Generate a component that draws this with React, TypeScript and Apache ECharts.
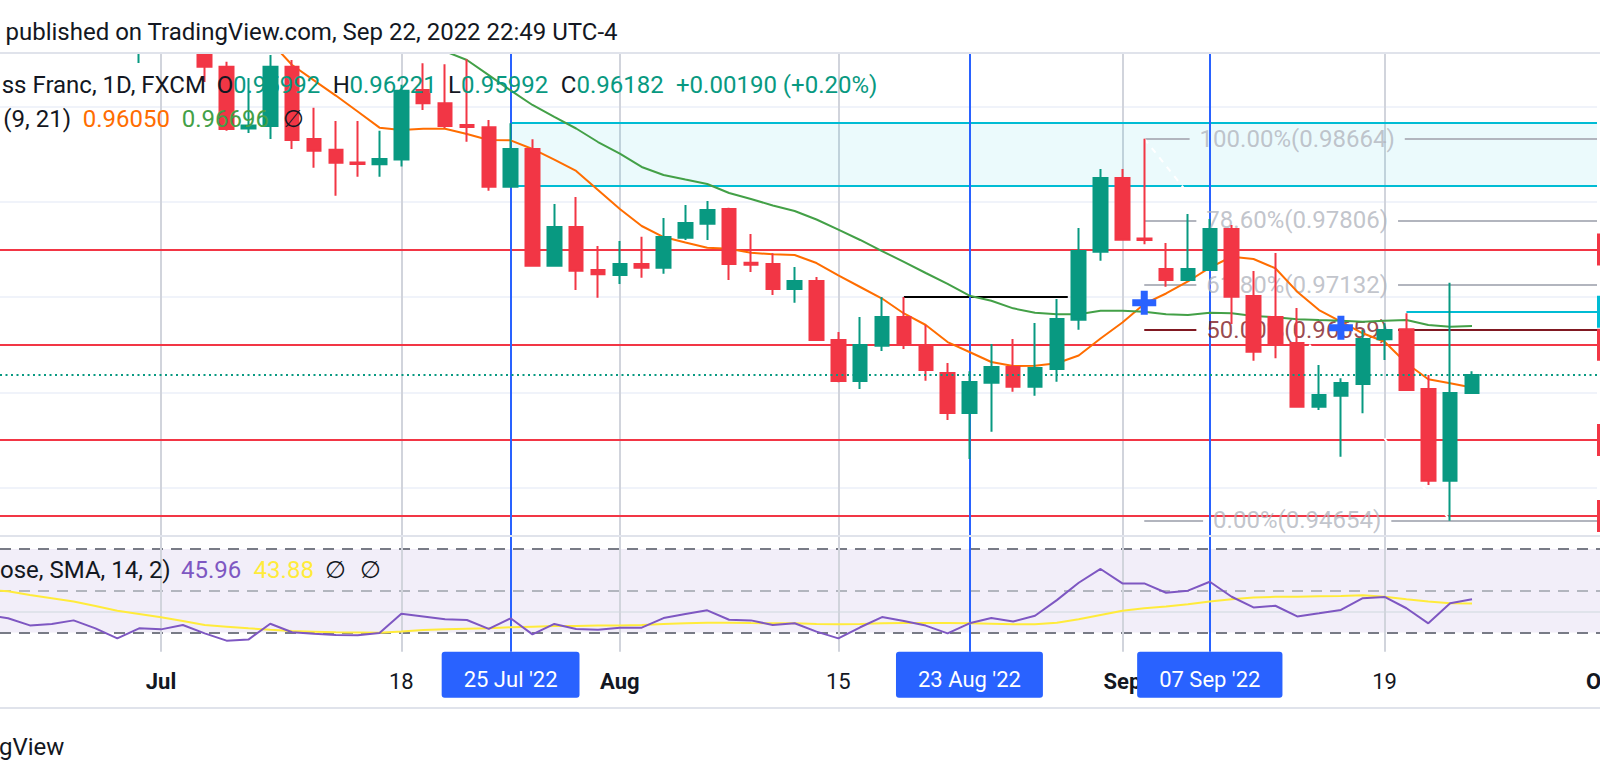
import React, { useEffect, useRef } from 'react';
import * as echarts from 'echarts';

// ---------- DATA ----------
const tradingDays = [
  'Jun 21', 'Jun 22', 'Jun 23', 'Jun 24', 'Jun 27', 'Jun 28', 'Jun 29', 'Jun 30',
  'Jul 1', 'Jul 4', 'Jul 5', 'Jul 6', 'Jul 7', 'Jul 8', 'Jul 11', 'Jul 12', 'Jul 13', 'Jul 14', 'Jul 15',
  'Jul 18', 'Jul 19', 'Jul 20', 'Jul 21', 'Jul 22', 'Jul 25', 'Jul 26', 'Jul 27', 'Jul 28', 'Jul 29',
  'Aug 1', 'Aug 2', 'Aug 3', 'Aug 4', 'Aug 5', 'Aug 8', 'Aug 9', 'Aug 10', 'Aug 11', 'Aug 12',
  'Aug 15', 'Aug 16', 'Aug 17', 'Aug 18', 'Aug 19', 'Aug 22', 'Aug 23', 'Aug 24', 'Aug 25', 'Aug 26',
  'Aug 29', 'Aug 30', 'Aug 31', 'Sep 1', 'Sep 2', 'Sep 5', 'Sep 6', 'Sep 7', 'Sep 8', 'Sep 9',
  'Sep 12', 'Sep 13', 'Sep 14', 'Sep 15', 'Sep 16', 'Sep 19', 'Sep 20', 'Sep 21', 'Sep 22', 'Sep 23',
];

const opens = [
  1.0160, 1.0180, 1.0150, 1.0170, 1.0135, 1.0120, 1.0075, 0.9992,
  1.0015, 0.9990, 1.0000, 0.99420, 0.98771, 0.98797, 0.99420, 0.98661, 0.98548, 0.98414, 0.98395,
  0.98445, 0.99175, 0.99036, 0.98808, 0.98784, 0.98160, 0.98556, 0.97330, 0.97736, 0.97285,
  0.97232, 0.97348, 0.97309, 0.97624, 0.97771, 0.97925, 0.97361, 0.97348, 0.97085, 0.97169,
  0.96549, 0.96119, 0.96489, 0.96791, 0.96497, 0.96203, 0.95783, 0.96101, 0.96266, 0.96059,
  0.96245, 0.96763, 0.97477, 0.98251, 0.97616, 0.97295, 0.97180, 0.97285, 0.97715, 0.97012,
  0.96791, 0.96518, 0.95849, 0.95964, 0.96087, 0.96557, 0.96662, 0.96035, 0.95071, 0.95992,
];
const closes = [
  1.0180, 1.0150, 1.0170, 1.0135, 1.0120, 1.0075, 0.9992, 1.0015,
  0.9990, 1.0000, 0.99420, 0.98766, 0.98803, 0.99420, 0.98650, 0.98538, 0.98412, 0.98398, 0.98451,
  0.99168, 0.99036, 0.98797, 0.98787, 0.98160, 0.98556, 0.97330, 0.97736, 0.97277, 0.97240,
  0.97348, 0.97309, 0.97631, 0.97778, 0.97915, 0.97348, 0.97340, 0.97085, 0.97169, 0.96549,
  0.96119, 0.96497, 0.96791, 0.96497, 0.96234, 0.95783, 0.96108, 0.96266, 0.96059, 0.96255,
  0.96770, 0.97484, 0.98251, 0.97603, 0.97600, 0.97180, 0.97295, 0.97715, 0.97004, 0.96426,
  0.96497, 0.95849, 0.95972, 0.96098, 0.96560, 0.96654, 0.96024, 0.95071, 0.95992, 0.96182,
];
const lows = [
  1.0140, 1.0120, 1.0130, 1.0115, 1.0095, 1.0060, 0.9980, 0.99459,
  0.9966, 0.9962, 0.99259, 0.98748, 0.98724, 0.98661, 0.98556, 0.98359, 0.98065, 0.98265, 0.98265,
  0.98372, 0.98965, 0.98773, 0.98632, 0.98118, 0.98151, 0.97327, 0.97319, 0.97075, 0.96994,
  0.97138, 0.97204, 0.97246, 0.97600, 0.97600, 0.97180, 0.97264, 0.97022, 0.96941, 0.96539,
  0.96105, 0.96035, 0.96434, 0.96455, 0.96122, 0.95709, 0.95300, 0.95586, 0.96006, 0.95964,
  0.96111, 0.96658, 0.97382, 0.97600, 0.97555, 0.97109, 0.97175, 0.97280, 0.96717, 0.96332,
  0.96357, 0.95846, 0.95814, 0.95324, 0.95779, 0.96339, 0.96014, 0.95026, 0.94651, 0.95992,
];
const highs = [
  1.0200, 1.0205, 1.0195, 1.0185, 1.0160, 1.0140, 1.0090, 1.0040,
  1.0045, 1.0025, 1.0012, 0.99473, 0.99301, 0.99543, 0.99491, 0.98989, 0.98850, 0.98850, 0.98748,
  0.99230, 0.99456, 0.99445, 0.99498, 0.98860, 0.98826, 0.98658, 0.97978, 0.98051, 0.97537,
  0.97589, 0.97634, 0.97831, 0.97967, 0.98009, 0.97939, 0.97663, 0.97460, 0.97316, 0.97211,
  0.96633, 0.96791, 0.97001, 0.97001, 0.96707, 0.96308, 0.96220, 0.96507, 0.96560, 0.96728,
  0.96980, 0.97726, 0.98346, 0.98346, 0.98664, 0.97568, 0.97873, 0.97821, 0.97757, 0.97274,
  0.97463, 0.96885, 0.96287, 0.96147, 0.96654, 0.96725, 0.96830, 0.96182, 0.97151, 0.96221,
];

// MA cross (9, 21)
const maFast = [
  null, null, null, null, null, null, null, null,
  null, null, null, 1.0008, 0.9990, 0.99685, 0.99438, 0.99277, 0.99117, 0.98949, 0.98780,
  0.98755, 0.98768, 0.98769, 0.98713, 0.98650, 0.98647, 0.98556, 0.98445, 0.98325, 0.98125,
  0.97925, 0.97747, 0.97631, 0.97574, 0.97519, 0.97508, 0.97466, 0.97450, 0.97442, 0.97358,
  0.97227, 0.97106, 0.96985, 0.96828, 0.96707, 0.96528, 0.96423, 0.96318, 0.96276, 0.96279,
  0.96305, 0.96387, 0.96565, 0.96733, 0.96928, 0.97038, 0.97164, 0.97309, 0.97424, 0.97400,
  0.97303, 0.97057, 0.96864, 0.96742, 0.96620, 0.96531, 0.96305, 0.96137, 0.96095, 0.96050,
];
const maSlow = [
  null, null, null, null, null, null, null, null,
  null, null, null, null, null, null, null, null, null, null, 0.9985,
  0.9975, 0.99665, 0.99581, 0.99491, 0.99331, 0.99171, 0.99018, 0.98893, 0.98771, 0.98629,
  0.98508, 0.98367, 0.98283, 0.98235, 0.98188, 0.98093, 0.98030, 0.97962, 0.97904, 0.97815,
  0.97708, 0.97600, 0.97484, 0.97369, 0.97253, 0.97138, 0.97015, 0.96962, 0.96882, 0.96836,
  0.96819, 0.96819, 0.96857, 0.96857, 0.96847, 0.96819, 0.96812, 0.96836, 0.96830, 0.96801,
  0.96788, 0.96767, 0.96759, 0.96752, 0.96742, 0.96752, 0.96759, 0.96707, 0.96689, 0.96696,
];

// RSI (14) and its SMA
const rsi = [
  38.5, 36.8, 33.4, 34.1, 35.8, 32.0, 27.2, 32.0,
  31.5, 33.6, 29.6, 26.1, 26.6, 34.2, 30.1, 29.4, 28.8, 28.7, 29.8,
  39.0, 37.7, 36.3, 36.0, 31.7, 36.8, 29.1, 34.1, 31.7, 31.3,
  32.3, 32.3, 36.9, 38.9, 40.6, 36.1, 35.8, 33.6, 34.4, 30.4,
  27.2, 32.5, 37.4, 35.5, 33.3, 29.6, 34.4, 36.9, 35.3, 38.0,
  45.5, 53.8, 60.4, 53.5, 53.5, 49.0, 50.0, 54.3, 47.1, 42.0,
  42.8, 37.7, 39.2, 40.8, 46.4, 47.0, 41.6, 34.4, 44.0, 45.96,
];
const rsiMa = [
  50.3, 49.7, 47.9, 46.4, 44.8, 42.7, 40.4, 38.9,
  37.3, 35.5, 33.6, 32.8, 32.0, 31.3, 30.7, 30.4, 30.1, 30.0, 29.9,
  30.5, 31.2, 31.5, 31.8, 32.0, 32.5, 32.8, 33.1, 33.1, 33.3,
  33.3, 33.6, 34.1, 34.4, 34.7, 34.7, 34.5, 34.4, 34.4, 34.1,
  33.9, 34.1, 34.4, 34.5, 34.5, 34.5, 34.4, 34.2, 33.9, 33.9,
  34.7, 36.3, 38.4, 40.4, 41.6, 42.4, 43.5, 44.8, 45.9, 46.7,
  47.1, 47.1, 47.3, 47.5, 47.8, 47.1, 45.9, 44.8, 44.0, 43.88,
];

// time axis ticks (trading-day index from Jul 1)
const timeTickIdx = [0, 11, 21, 31, 44, 56, 66];
const timeTickLabels = ['Jul', '18', 'Aug', '15', 'Sep', '19', 'Oct'];
const timeTickBold = [true, false, true, false, true, false, true];

// drawings
const priceGridLevels = [0.95, 0.96, 0.97, 0.98, 0.99];
const redLevels = [0.975, 0.965, 0.955, 0.947];
const zoneStartDay = 'Jul 25';
const zoneTop = 0.98832;
const zoneBottom = 0.98170;
const cyanLevelStartDay = 'Sep 20';
const cyanLevel = 0.96847;
const blackLineStartDay = 'Aug 18';
const blackLineEndOffset = 41.5;
const blackLineLevel = 0.97000;
const eventDays = ['Jul 25', 'Aug 23', 'Sep 7'];
const eventLabels = ["25 Jul '22", "23 Aug '22", "07 Sep '22"];
const plusMarkDays = ['Sep 2', 'Sep 15'];
const plusMarkPrices = [0.96941, 0.96679];
const fibStartDay = 'Sep 2';
const fibEndDay = 'Sep 22';
const fibRatios = ['100.00%', '78.60%', '61.80%', '50.00%', '0.00%'];
const fibPrices = [0.98664, 0.97806, 0.97132, 0.96659, 0.94654];
const rsiUpper = 70;
const rsiMiddle = 50;
const rsiLower = 30;
const rsiGrid = [40];

// ---------- LAYOUT ----------
const FONT = "Roboto, 'DejaVu Sans', sans-serif";
const DARK = '#131722';
const UP = '#089981';
const DOWN = '#F23645';
const ORANGE = '#FF6D00';
const GREEN_MA = '#43A047';
const PURPLE = '#7E57C2';
const YELLOW = '#FFEB3B';
const BLUE = '#2962FF';
const CYAN = '#00BCD4';
const MAROON = '#801922';
const FIB_GREY = '#B2B5BE';

const CHART_W = 1640; // wider than the 1600 viewport: the right edge is cropped like the reference
const PX_PER_DAY = 21.85;
const JUL1_PX = 161;
const X_MIN = -JUL1_PX / PX_PER_DAY;
const MAIN_W = 1597;
const X_MAX = X_MIN + MAIN_W / PX_PER_DAY;
const RSI_W = 1640;
const X_MAX_RSI = X_MIN + RSI_W / PX_PER_DAY;
const MAIN_TOP = 53;
const MAIN_H = 483;
const RSI_TOP = 536;
const RSI_H = 115.7;
const PX_PER_PRICE = 9520;
const REF_PRICE = 0.99;
const REF_PRICE_Y = 106.7;
const Y_MAX = REF_PRICE + (REF_PRICE_Y - MAIN_TOP) / PX_PER_PRICE;
const Y_MIN = REF_PRICE - (MAIN_TOP + MAIN_H - REF_PRICE_Y) / PX_PER_PRICE;
const RSI_PX_PER_UNIT = 2.09;
const RSI_MID_Y = 590.7;
const RSI_MAX = 50 + (RSI_MID_Y - RSI_TOP) / RSI_PX_PER_UNIT;
const RSI_MIN = 50 - (RSI_TOP + RSI_H - RSI_MID_Y) / RSI_PX_PER_UNIT;

const JUL1_INDEX = tradingDays.indexOf('Jul 1');
const dayX = (d: string) => tradingDays.indexOf(d) - JUL1_INDEX;
const X_END = X_MAX - 1e-6;

function textWidth(text: string, font: string): number {
  const ctx = document.createElement('canvas').getContext('2d');
  if (!ctx) return text.length * 12;
  ctx.font = font;
  return ctx.measureText(text).width;
}

function buildOption(): any {
  const last = tradingDays.length - 1;
  const candleData = tradingDays.map((_, i) => [i - JUL1_INDEX, opens[i], closes[i], lows[i], highs[i]]);
  const series2 = (arr: (number | null)[]) =>
    arr.map((v, i) => (v == null ? null : [i - JUL1_INDEX, v])).filter((p) => p !== null);

  // background grid lines (main)
  const bgLines: any[] = [];
  priceGridLevels.forEach((v) => bgLines.push({ yAxis: v, lineStyle: { color: '#F0F3FA', width: 2, type: 'solid' } }));
  timeTickIdx.forEach((v) => {
    if (v <= X_MAX) bgLines.push({ xAxis: v, lineStyle: { color: '#D1D4DC', width: 2, type: 'solid' } });
  });

  const tagLabel = (color: string, v: number) => ({
    show: true, position: 'end', distance: 0, formatter: v.toFixed(5),
    backgroundColor: color, color: '#fff', padding: [5, 8], fontSize: 22, lineHeight: 22, fontFamily: FONT,
  });

  // level lines
  const levelLines: any[] = [];
  redLevels.forEach((v) =>
    levelLines.push({ yAxis: v, lineStyle: { color: DOWN, width: 2, type: 'solid' }, label: tagLabel(DOWN, v) })
  );
  [zoneTop, zoneBottom].forEach((v) =>
    levelLines.push([{ coord: [dayX(zoneStartDay), v], lineStyle: { color: CYAN, width: 2, type: 'solid' } }, { coord: [X_END, v] }])
  );
  levelLines.push([
    { coord: [dayX(cyanLevelStartDay), cyanLevel], lineStyle: { color: CYAN, width: 2, type: 'solid' }, label: tagLabel(CYAN, cyanLevel) },
    { coord: [X_END, cyanLevel] },
  ]);
  levelLines.push([
    { coord: [dayX(blackLineStartDay), blackLineLevel], lineStyle: { color: '#000', width: 2, type: 'solid' } },
    { coord: [blackLineEndOffset, blackLineLevel] },
  ]);
  const fibA = dayX(fibStartDay);
  const fibB = dayX(fibEndDay);
  const fibMid = (fibA + fibB) / 2;
  const fibTexts: any[] = [];
  fibPrices.forEach((p, k) => {
    const label = `${fibRatios[k]}(${p.toFixed(5)})`;
    const color = fibRatios[k] === '50.00%' ? MAROON : FIB_GREY;
    const half = (textWidth(label, '24px Roboto') / 2 + 10) / PX_PER_DAY;
    levelLines.push([{ coord: [fibA, p], lineStyle: { color, width: 2, type: 'solid' } }, { coord: [fibMid - half, p] }]);
    levelLines.push([{ coord: [fibMid + half, p], lineStyle: { color, width: 2, type: 'solid' } }, { coord: [X_END, p] }]);
    fibTexts.push({ value: [fibMid, p], label: { formatter: label, color } });
  });
  levelLines.push([
    { coord: [fibA, fibPrices[0]], lineStyle: { color: '#ffffff', width: 2, type: [6, 6] } },
    { coord: [fibB, fibPrices[fibPrices.length - 1]] },
  ]);

  const eventIdx = eventDays.map(dayX);

  // RSI background lines
  const rsiLines: any[] = [
    { yAxis: rsiUpper, lineStyle: { color: '#787B86', width: 2, type: [11, 8] } },
    { yAxis: rsiLower, lineStyle: { color: '#787B86', width: 2, type: [11, 8] } },
    { yAxis: rsiMiddle, lineStyle: { color: '#B2B5BE', width: 2, type: [11, 8] } },
  ];
  rsiGrid.forEach((v) => rsiLines.push({ yAxis: v, lineStyle: { color: '#E0E3EB', width: 2, type: 'solid' } }));
  timeTickIdx.forEach((v) => rsiLines.push({ xAxis: v, lineStyle: { color: '#D1D4DC', width: 2, type: 'solid' } }));

  const txt = (text: string, x: number, y: number, fill: string, size = 24) => ({
    type: 'text', x, y, z: 100, silent: true,
    style: { text, fill, fontSize: size, fontFamily: FONT, verticalAlign: 'middle', align: 'left' },
  });
  const chg = closes[last] - closes[last - 1];
  const pct = (chg / closes[last - 1]) * 100;
  const sign = chg >= 0 ? '+' : '-';

  const graphic: any[] = [
    { type: 'rect', z: 80, silent: true, shape: { x: 0, y: 0, width: CHART_W, height: 52 }, style: { fill: '#ffffff' } },
    { type: 'line', z: 90, silent: true, shape: { x1: 0, y1: 53, x2: CHART_W, y2: 53 }, style: { stroke: '#E0E3EB', lineWidth: 2 } },
    { type: 'line', z: 90, silent: true, shape: { x1: 0, y1: 536, x2: CHART_W, y2: 536 }, style: { stroke: '#E0E3EB', lineWidth: 2 } },
    { type: 'line', z: 90, silent: true, shape: { x1: 0, y1: 708, x2: CHART_W, y2: 708 }, style: { stroke: '#E0E3EB', lineWidth: 2 } },
    txt('published on TradingView.com, Sep 22, 2022 22:49 UTC-4', 5.5, 31.5, DARK),
    txt('ss Franc, 1D, FXCM', 1.7, 85, DARK),
    txt('O', 216.7, 85, DARK),
    txt(opens[last].toFixed(5), 233, 85, UP),
    txt('H', 332.7, 85, DARK),
    txt(highs[last].toFixed(5), 349.5, 85, UP),
    txt('L', 448, 85, DARK),
    txt(lows[last].toFixed(5), 461, 85, UP),
    txt('C', 560.7, 85, DARK),
    txt(closes[last].toFixed(5), 576.5, 85, UP),
    txt(`${sign}${Math.abs(chg).toFixed(5)} (${sign}${Math.abs(pct).toFixed(2)}%)`, 676, 85, UP),
    txt('(9, 21)', 3.3, 118.5, DARK),
    txt((maFast[last] as number).toFixed(5), 82.7, 118.5, ORANGE),
    txt((maSlow[last] as number).toFixed(5), 181.7, 118.5, GREEN_MA),
    txt('\u2205', 283, 118.5, DARK),
    txt('ose, SMA, 14, 2)', 0, 570, DARK),
    txt(rsi[last].toFixed(2), 181, 570, PURPLE),
    txt(rsiMa[last].toFixed(2), 253.6, 570, YELLOW),
    txt('\u2205', 325, 570, DARK),
    txt('\u2205', 360, 570, DARK),
    txt('gView', -1, 746.5, DARK),
  ];

  const ML = { silent: true, symbol: ['none', 'none'], precision: 6, label: { show: false } };

  return {
    animation: false,
    backgroundColor: '#ffffff',
    textStyle: { fontFamily: FONT },
    grid: [
      { left: 0, top: MAIN_TOP, width: MAIN_W, height: MAIN_H, containLabel: false },
      { left: 0, top: RSI_TOP, width: RSI_W, height: RSI_H, containLabel: false },
    ],
    xAxis: [
      { type: 'value', gridIndex: 0, min: X_MIN, max: X_MAX, show: false },
      {
        type: 'value', gridIndex: 1, min: X_MIN, max: X_MAX_RSI, position: 'bottom',
        axisLine: { show: false }, axisTick: { show: false }, splitLine: { show: false },
        axisLabel: {
          show: true, customValues: timeTickIdx, margin: 19, fontSize: 22, lineHeight: 22, color: DARK, fontFamily: FONT,
          formatter: (v: number) => {
            const k = timeTickIdx.indexOf(Math.round(v));
            if (k < 0) return '';
            return timeTickBold[k] ? `{b|${timeTickLabels[k]}}` : `{n|${timeTickLabels[k]}}`;
          },
          rich: {
            b: { fontSize: 22, lineHeight: 22, fontWeight: 'bold', color: DARK, fontFamily: FONT },
            n: { fontSize: 22, lineHeight: 22, fontWeight: 'normal', color: DARK, fontFamily: FONT },
          },
        },
      },
      {
        type: 'value', gridIndex: 1, min: X_MIN, max: X_MAX_RSI, position: 'bottom',
        axisLine: { show: false }, axisTick: { show: false }, splitLine: { show: false },
        axisLabel: {
          show: true, customValues: eventIdx, margin: 0, fontSize: 22, lineHeight: 22, color: '#ffffff', fontFamily: FONT,
          backgroundColor: BLUE, padding: [17, 22, 7, 22], borderRadius: 3,
          formatter: (v: number) => {
            const k = eventIdx.indexOf(Math.round(v));
            return k < 0 ? '' : eventLabels[k];
          },
        },
      },
    ],
    yAxis: [
      { type: 'value', gridIndex: 0, min: Y_MIN, max: Y_MAX, show: false, scale: true },
      { type: 'value', gridIndex: 1, min: RSI_MIN, max: RSI_MAX, show: false, scale: true },
    ],
    graphic,
    series: [
      {
        name: 'bg', type: 'line', xAxisIndex: 0, yAxisIndex: 0, data: [], z: 1, silent: true,
        markLine: { ...ML, z: 1, data: bgLines },
      },
      {
        name: 'zone', type: 'line', xAxisIndex: 0, yAxisIndex: 0, data: [], z: 2, silent: true,
        markArea: {
          silent: true, z: 2, itemStyle: { color: 'rgba(0,188,212,0.08)' },
          data: [[{ coord: [dayX(zoneStartDay), zoneTop] }, { coord: [X_END, zoneBottom] }]],
        },
      },
      {
        name: 'levels', type: 'line', xAxisIndex: 0, yAxisIndex: 0, data: [], z: 3, silent: true,
        markLine: { ...ML, z: 3, data: levelLines },
      },
      {
        name: 'events', type: 'line', xAxisIndex: 0, yAxisIndex: 0, data: [], z: 4, silent: true,
        markLine: {
          ...ML, z: 4,
          data: eventIdx.map((v) => ({ xAxis: v, lineStyle: { color: BLUE, width: 2, type: 'solid' } })),
        },
      },
      {
        name: 'fibText', type: 'scatter', xAxisIndex: 0, yAxisIndex: 0, z: 5, silent: true,
        symbolSize: 1, itemStyle: { color: 'rgba(0,0,0,0)' },
        label: { show: true, position: 'inside', fontSize: 24, fontFamily: FONT },
        data: fibTexts,
      },
      {
        name: 'MA9', type: 'line', xAxisIndex: 0, yAxisIndex: 0, z: 6, silent: true, symbol: 'none',
        lineStyle: { color: ORANGE, width: 2 }, data: series2(maFast), clip: true,
      },
      {
        name: 'MA21', type: 'line', xAxisIndex: 0, yAxisIndex: 0, z: 6, silent: true, symbol: 'none',
        lineStyle: { color: GREEN_MA, width: 2 }, data: series2(maSlow), clip: true,
      },
      {
        name: 'plus', type: 'scatter', xAxisIndex: 0, yAxisIndex: 0, z: 7, silent: true,
        symbol: 'path://M8.5,0h7v8.5h8.5v7h-8.5v8.5h-7v-8.5h-8.5v-7h8.5z', symbolSize: 24,
        itemStyle: { color: BLUE, opacity: 1 },
        data: plusMarkDays.map((d, k) => [dayX(d), plusMarkPrices[k]]),
      },
      {
        name: 'EURCHF', type: 'candlestick', xAxisIndex: 0, yAxisIndex: 0, z: 8, silent: true, clip: true,
        encode: { x: 0, y: [1, 2, 3, 4] }, barWidth: 14,
        itemStyle: { color: UP, color0: DOWN, borderColor: UP, borderColor0: DOWN, borderWidth: 2 },
        data: candleData,
      },
      {
        name: 'lastPrice', type: 'line', xAxisIndex: 0, yAxisIndex: 0, data: [], z: 9, silent: true,
        markLine: {
          ...ML, z: 9,
          data: [{ yAxis: closes[last], lineStyle: { color: UP, width: 2, type: [2, 3.5] } }],
        },
      },
      {
        name: 'rsiBg', type: 'line', xAxisIndex: 1, yAxisIndex: 1, data: [], z: 1, silent: true,
        markArea: {
          silent: true, z: 1, itemStyle: { color: 'rgba(126,87,194,0.1)' },
          data: [[{ yAxis: rsiUpper }, { yAxis: rsiLower }]],
        },
        markLine: { ...ML, z: 2, data: rsiLines },
      },
      {
        name: 'rsiEvents', type: 'line', xAxisIndex: 1, yAxisIndex: 1, data: [], z: 2, silent: true,
        markLine: {
          ...ML, z: 2,
          data: eventIdx.map((v) => ({ xAxis: v, lineStyle: { color: BLUE, width: 2, type: 'solid' } })),
        },
      },
      {
        name: 'RSI MA', type: 'line', xAxisIndex: 1, yAxisIndex: 1, z: 3, silent: true, symbol: 'none',
        lineStyle: { color: YELLOW, width: 2 }, data: series2(rsiMa), clip: true,
      },
      {
        name: 'RSI', type: 'line', xAxisIndex: 1, yAxisIndex: 1, z: 4, silent: true, symbol: 'none',
        lineStyle: { color: PURPLE, width: 2 }, data: series2(rsi), clip: true,
      },
    ],
  };
}

export default function App() {
  const ref = useRef<HTMLDivElement>(null);
  useEffect(() => {
    if (!ref.current) return;
    const chart = echarts.init(ref.current, null, { renderer: 'svg' });
    chart.setOption(buildOption());
    return () => chart.dispose();
  }, []);
  return (
    <div style={{ position: 'absolute', left: 0, top: 0, width: 1600, height: 778, background: '#fff', overflow: 'hidden' }}>
      <div ref={ref} style={{ width: CHART_W, height: 778 }} />
    </div>
  );
}
